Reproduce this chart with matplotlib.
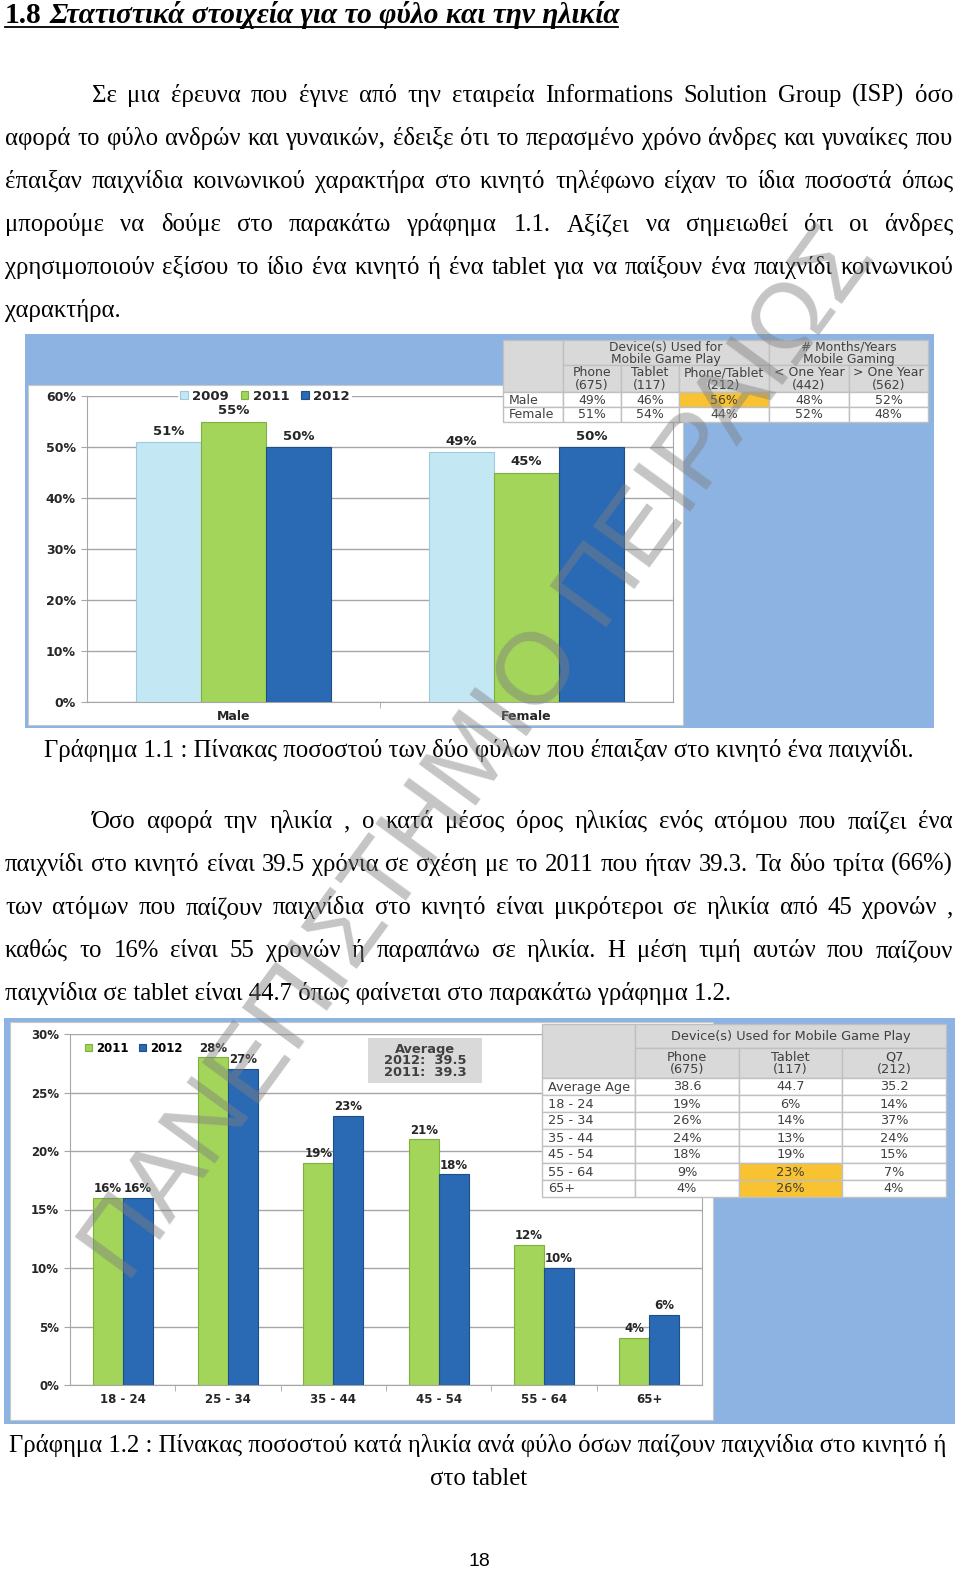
import matplotlib
matplotlib.use('Agg')
import matplotlib.pyplot as plt
from matplotlib.patches import Rectangle
from matplotlib.ticker import FuncFormatter
import numpy as np

# ---- data ----
gender_cats = ['Male', 'Female']
share_2009 = [51, 49]
share_2011 = [55, 45]
share_2012 = [50, 50]

t1_groups = ['Device(s) Used for\nMobile Game Play', '# Months/Years\nMobile Gaming']
t1_cols = ['Phone\n(675)', 'Tablet\n(117)', 'Phone/Tablet\n(212)', '< One Year\n(442)', '> One Year\n(562)']
t1_rows = ['Male', 'Female']
t1_male = ['49%', '46%', '56%', '48%', '52%']
t1_female = ['51%', '54%', '44%', '52%', '48%']

age_groups = ['18 - 24', '25 - 34', '35 - 44', '45 - 54', '55 - 64', '65+']
age_2011 = [16, 28, 19, 21, 12, 4]
age_2012 = [16, 27, 23, 18, 10, 6]

t2_group = 'Device(s) Used for Mobile Game Play'
t2_cols = ['Phone\n(675)', 'Tablet\n(117)', 'Q7\n(212)']
t2_rows = ['Average Age', '18 - 24', '25 - 34', '35 - 44', '45 - 54', '55 - 64', '65+']
t2_phone = ['38.6', '19%', '26%', '24%', '18%', '9%', '4%']
t2_tablet = ['44.7', '6%', '14%', '13%', '19%', '23%', '26%']
t2_q7 = ['35.2', '14%', '37%', '24%', '15%', '7%', '4%']

title_num = '1.8'
title_text = 'Στατιστικά στοιχεία για το φύλο και την ηλικία'
para1 = [
    'Σε μια έρευνα που έγινε από την εταιρεία Informations Solution Group (ISP) όσο',
    'αφορά το φύλο ανδρών και γυναικών, έδειξε ότι το περασμένο χρόνο άνδρες και γυναίκες που',
    'έπαιξαν παιχνίδια κοινωνικού χαρακτήρα στο κινητό τηλέφωνο είχαν το ίδια ποσοστά όπως',
    'μπορούμε να δούμε στο παρακάτω γράφημα 1.1. Αξίζει να σημειωθεί ότι οι άνδρες',
    'χρησιμοποιούν εξίσου το ίδιο ένα κινητό ή ένα tablet για να παίξουν ένα παιχνίδι κοινωνικού',
    'χαρακτήρα.',
]
caption1 = 'Γράφημα 1.1 : Πίνακας ποσοστού των δύο φύλων που έπαιξαν στο κινητό ένα παιχνίδι.'
para2 = [
    'Όσο αφορά την ηλικία , ο κατά μέσος όρος ηλικίας ενός ατόμου που παίζει ένα',
    'παιχνίδι στο κινητό είναι 39.5 χρόνια σε σχέση με το 2011 που ήταν 39.3. Τα δύο τρίτα (66%)',
    'των ατόμων που παίζουν παιχνίδια στο κινητό είναι μικρότεροι  σε ηλικία από 45 χρονών ,',
    'καθώς το 16% είναι 55 χρονών ή  παραπάνω σε ηλικία. Η μέση τιμή αυτών που παίζουν',
    'παιχνίδια σε tablet είναι 44.7 όπως φαίνεται στο παρακάτω γράφημα 1.2.',
]
caption2 = ['Γράφημα 1.2 : Πίνακας ποσοστού κατά ηλικία ανά φύλο όσων παίζουν παιχνίδια στο κινητό ή',
            'στο tablet']
avg_lines = ['Average', '2012:  39.5', '2011:  39.3']
page_no = '18'
watermark = 'ΠΑΝΕΠΙΣΤΗΜΙΟ ΠΕΙΡΑΙΩΣ'

# ---- style ----
SERIF = 'Liberation Serif'
SANS = 'DejaVu Sans'
C_BLUE_BG = '#8DB3E2'
C_2009 = '#C4E7F4'
C_2011 = '#A2D55A'
C_2012 = '#2A6AB4'
C_HEAD = '#D9D9D9'
C_HI = '#F8C230'
C_GRID = '#A6A6A6'
C_TXT = '#404040'

W, H = 960, 1569
fig = plt.figure(figsize=(W / 100, H / 100), dpi=100)
renderer = fig.canvas.get_renderer()


def rect(l, t, r, b):
    return [l / W, 1 - b / H, (r - l) / W, (b - t) / H]


page = fig.add_axes([0, 0, 1, 1], zorder=0)
page.set_xlim(0, W)
page.set_ylim(H, 0)
page.axis('off')
top = fig.add_axes([0, 0, 1, 1], zorder=5)
top.set_xlim(0, W)
top.set_ylim(H, 0)
top.axis('off')


def text_width(ax, s, **kw):
    t = ax.text(0, 0, s, **kw)
    w = t.get_window_extent(renderer).width
    t.remove()
    return w


def put_line(ax, s, x0, x1, y, size, justify):
    if not justify:
        ax.text(x0, y, s, fontsize=size, family=SERIF, va='baseline', ha='left')
        return
    words = s.split()
    arts = [ax.text(0, y, w, fontsize=size, family=SERIF, va='baseline', ha='left') for w in words]
    widths = [a.get_window_extent(renderer).width for a in arts]
    gap = (x1 - x0 - sum(widths)) / (len(words) - 1)
    x = x0
    for a, w in zip(arts, widths):
        a.set_x(x)
        x += w + gap


# ---- title ----
tsize = 10 * 613 / (text_width(page, title_num + ' ', fontsize=10, family=SERIF, weight='bold')
                    + text_width(page, title_text, fontsize=10, family=SERIF, weight='bold', style='italic'))
page.text(5, 23, title_num, fontsize=tsize, family=SERIF, weight='bold', va='baseline')
x_t = 5 + text_width(page, title_num + ' ', fontsize=tsize, family=SERIF, weight='bold')
page.text(x_t, 23, title_text, fontsize=tsize, family=SERIF, weight='bold', style='italic', va='baseline')
page.plot([5, 618], [27, 27], color='black', lw=1.3)

# body size fitted so the first caption spans the same width as in the page
BODY = 10 * 868 / text_width(page, caption1, fontsize=10, family=SERIF)
for i, line in enumerate(para1):
    x0 = 92 if i == 0 else 5
    put_line(page, line, x0, 953, 102 + 43 * i, BODY, i < len(para1) - 1)

page.text(479, 757, caption1, fontsize=BODY, family=SERIF, ha='center', va='baseline')

for i, line in enumerate(para2):
    x0 = 92 if i == 0 else 5
    put_line(page, line, x0, 953, 828 + 43 * i, BODY, i < len(para2) - 1)

page.text(478, 1452, caption2[0], fontsize=BODY, family=SERIF, ha='center', va='baseline')
page.text(479, 1485, caption2[1], fontsize=BODY, family=SERIF, ha='center', va='baseline')
page.text(479, 1566, page_no, fontsize=14, family='Liberation Sans', ha='center', va='baseline')

# ---- panels ----
page.add_patch(Rectangle((25, 334), 909, 394, facecolor=C_BLUE_BG, edgecolor='none'))
page.add_patch(Rectangle((28, 385), 655, 340, facecolor='white', edgecolor='#C8C8C8', lw=0.8))
page.add_patch(Rectangle((4, 1018), 951, 406, facecolor=C_BLUE_BG, edgecolor='none'))
page.add_patch(Rectangle((10, 1022), 703, 398, facecolor='white', edgecolor='#C8C8C8', lw=0.8))


def style_chart(ax, ymax, step, ncat, size):
    ax.set_facecolor('none')
    ax.set_xlim(-0.5, ncat - 0.5)
    ax.set_ylim(0, ymax)
    ax.set_yticks(np.arange(0, ymax + 1, step))
    ax.yaxis.set_major_formatter(FuncFormatter(lambda v, p: f'{v:.0f}%'))
    ax.yaxis.grid(True, color=C_GRID, lw=1)
    ax.set_axisbelow(True)
    for s in ['left', 'bottom', 'right']:
        ax.spines[s].set_color(C_GRID)
    ax.spines['top'].set_visible(False)
    ax.tick_params(axis='y', length=4, color=C_GRID, pad=4, labelsize=size, labelcolor='#262626')
    ax.tick_params(axis='x', which='major', length=0, pad=6, labelsize=size, labelcolor='#262626')
    ax.set_xticks(np.arange(ncat - 1) + 0.5, minor=True)
    ax.tick_params(axis='x', which='minor', length=4, color=C_GRID)
    for lab in ax.get_yticklabels() + ax.get_xticklabels():
        lab.set_fontweight('bold')
        lab.set_family(SANS)


# ---- chart 1 ----
ax1 = fig.add_axes(rect(87, 396, 673, 702), zorder=2)
x1 = np.arange(len(gender_cats))
bw1 = 0.222
series1 = [('2009', share_2009, C_2009, '#9CCBDD'), ('2011', share_2011, C_2011, '#7FAF3C'),
           ('2012', share_2012, C_2012, '#1F4F88')]
for k, (name, vals, col, ec) in enumerate(series1):
    b = ax1.bar(x1 + (k - 1) * bw1, vals, bw1, color=col, edgecolor=ec, lw=0.8, label=name, zorder=3)
    ax1.bar_label(b, labels=[f'{v}%' for v in vals], padding=3, fontsize=9.5,
                  fontweight='bold', family=SANS, color='#262626')
ax1.set_xticks(x1)
ax1.set_xticklabels(gender_cats)
style_chart(ax1, 60, 10, len(gender_cats), 9)
leg = ax1.legend(loc='center', bbox_to_anchor=(0.304, 1.0), ncol=3, frameon=True, fancybox=False,
                 edgecolor='none', framealpha=1, handlelength=0.55, handleheight=0.55,
                 handletextpad=0.35, columnspacing=0.9, borderpad=0.15,
                 prop={'family': SANS, 'weight': 'bold', 'size': 9.5})
for t in leg.get_texts():
    t.set_color('#262626')

# ---- table 1 ----
def cell(ax, x0, y0, x1, y1, txt, fc, ha='center', size=8.5):
    ax.add_patch(Rectangle((x0, y0), x1 - x0, y1 - y0, facecolor=fc, edgecolor='#C0C0C0', lw=1))
    if txt:
        tx = (x0 + x1) / 2 if ha == 'center' else x0 + 6
        ax.text(tx, (y0 + y1) / 2 + 0.5, txt, ha=ha, va='center', fontsize=size, color=C_TXT,
                family=SANS, linespacing=0.9)


tb1_x = [503, 563, 621, 679, 769, 849, 928]
tb1_y = [340, 365, 392, 407, 422]
cell(top, tb1_x[0], tb1_y[0], tb1_x[1], tb1_y[2], '', C_HEAD)
cell(top, tb1_x[1], tb1_y[0], tb1_x[4], tb1_y[1], t1_groups[0], C_HEAD, size=8.8)
cell(top, tb1_x[4], tb1_y[0], tb1_x[6], tb1_y[1], t1_groups[1], C_HEAD, size=8.8)
for j, c in enumerate(t1_cols):
    cell(top, tb1_x[j + 1], tb1_y[1], tb1_x[j + 2], tb1_y[2], c, C_HEAD, size=9)
for i, (rname, rvals) in enumerate(zip(t1_rows, [t1_male, t1_female])):
    cell(top, tb1_x[0], tb1_y[2 + i], tb1_x[1], tb1_y[3 + i], rname, 'white', ha='left', size=9)
    for j, v in enumerate(rvals):
        fc = C_HI if (rname == 'Male' and j == 2) else 'white'
        cell(top, tb1_x[j + 1], tb1_y[2 + i], tb1_x[j + 2], tb1_y[3 + i], v, fc, size=9)

# ---- chart 2 ----
ax2 = fig.add_axes(rect(70, 1034, 702, 1385), zorder=2)
x2 = np.arange(len(age_groups))
bw2 = 0.285
series2 = [('2011', age_2011, C_2011, '#7FAF3C'), ('2012', age_2012, C_2012, '#1F4F88')]
for k, (name, vals, col, ec) in enumerate(series2):
    b = ax2.bar(x2 + (k - 0.5) * bw2, vals, bw2, color=col, edgecolor=ec, lw=0.8, label=name, zorder=3)
    ax2.bar_label(b, labels=[f'{v}%' for v in vals], padding=2, fontsize=8.5,
                  fontweight='bold', family=SANS, color='#262626')
ax2.set_xticks(x2)
ax2.set_xticklabels(age_groups)
style_chart(ax2, 30, 5, len(age_groups), 8.5)
leg2 = ax2.legend(loc='center', bbox_to_anchor=(0.101, 0.96), ncol=2, frameon=False,
                  handlelength=0.55, handleheight=0.55, handletextpad=0.35, columnspacing=0.9,
                  prop={'family': SANS, 'weight': 'bold', 'size': 8.5})

# average box
top.add_patch(Rectangle((368, 1038), 114, 45, facecolor=C_HEAD, edgecolor='none'))
for i, s in enumerate(avg_lines):
    top.text(425, 1049 + 12 * i, s, ha='center', va='center', fontsize=9.4, weight='bold',
             family=SANS, color=C_TXT)

# ---- table 2 ----
tb2_x = [542, 635, 739, 842, 946]
tb2_y = [1024, 1048, 1078] + [1078 + 17 * (i + 1) for i in range(len(t2_rows))]
cell(top, tb2_x[0], tb2_y[0], tb2_x[1], tb2_y[2], '', C_HEAD)
cell(top, tb2_x[1], tb2_y[0], tb2_x[4], tb2_y[1], t2_group, C_HEAD, size=9.3)
for j, c in enumerate(t2_cols):
    cell(top, tb2_x[j + 1], tb2_y[1], tb2_x[j + 2], tb2_y[2], c, C_HEAD, size=9.3)
for i, rname in enumerate(t2_rows):
    cell(top, tb2_x[0], tb2_y[2 + i], tb2_x[1], tb2_y[3 + i], rname, 'white', ha='left', size=9.3)
    for j, col in enumerate([t2_phone, t2_tablet, t2_q7]):
        fc = C_HI if (j == 1 and rname in ('55 - 64', '65+')) else 'white'
        cell(top, tb2_x[j + 1], tb2_y[2 + i], tb2_x[j + 2], tb2_y[3 + i], col[i], fc, size=9.3)

# ---- watermark ----
wsize = 10 * 1270 / text_width(top, watermark, fontsize=10, family='Liberation Sans')
top.text(480, 755, watermark, fontsize=wsize, family='Liberation Sans', color='#7F7F7F', alpha=0.45,
         rotation=53.9, rotation_mode='anchor', ha='center', va='center', zorder=20)

fig.savefig('out.png', dpi=100)
